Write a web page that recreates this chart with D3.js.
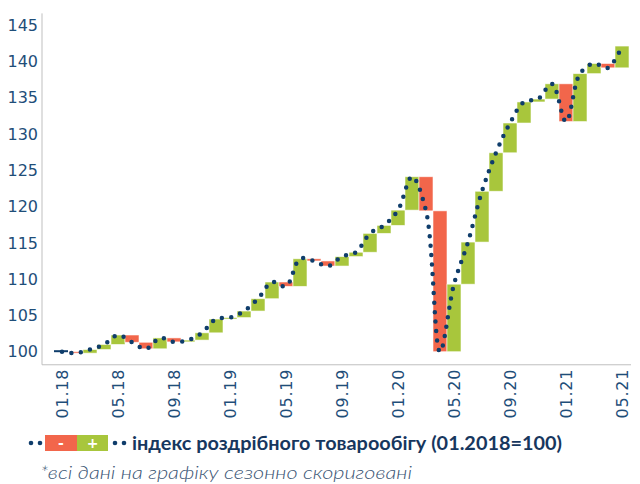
<!DOCTYPE html>
<html>
<head>
<meta charset="utf-8">
<script src="https://cdn.jsdelivr.net/npm/d3@7/dist/d3.min.js"></script>
<style>
	body { margin: 0; background: #fff; }
	text { font-family: "DejaVu Sans", sans-serif; }
</style>
</head>
<body>
<svg id="chart" width="640" height="484"></svg>
<script>
// monthly categories, 01.18 .. 05.21
var months = ["01.18","02.18","03.18","04.18","05.18","06.18","07.18","08.18","09.18","10.18","11.18","12.18",
	"01.19","02.19","03.19","04.19","05.19","06.19","07.19","08.19","09.19","10.19","11.19","12.19",
	"01.20","02.20","03.20","04.20","05.20","06.20","07.20","08.20","09.20","10.20","11.20","12.20",
	"01.21","02.21","03.21","04.21","05.21"];

// retail trade index (01.2018=100), seasonally adjusted
var retailIndex = [100, 99.8, 100.3, 101.0, 102.3, 101.3, 100.4, 101.9, 101.35, 101.6, 102.6, 104.5,
	104.7, 105.6, 107.3, 109.6, 109.0, 112.8, 112.5, 111.8, 113.1, 113.7, 116.3, 117.4,
	119.5, 124.1, 119.4, 100.0, 109.3, 115.1, 122.1, 127.4, 131.5, 134.4, 134.8, 136.9,
	131.7, 138.3, 139.7, 139.1, 142.1];

var xTickLabels = ["01.18","05.18","09.18","01.19","05.19","09.19","01.20","05.20","09.20","01.21","05.21"];
var yTicks = [100, 105, 110, 115, 120, 125, 130, 135, 140, 145];

var legendLabel = "індекс роздрібного товарообігу (01.2018=100)";
var footnote = "*всі дані на графіку сезонно скориговані";

var navy = "#0f3d6b",
	green = "#a8c63c",
	red = "#f2664b",
	tickColor = "#1f4e79";

var svg = d3.select("#chart");

var x = d3.scaleBand()
	.domain(months)
	.range([55, 629])
	.padding(0);

var y = d3.scaleLinear()
	.domain([100, 145])
	.range([351.7, 25]);

var axisLeftX = 42,
	axisBottomY = y(98.2),
	axisTopY = y(146.6);

// axis lines
svg.append("line")
	.attr("x1", axisLeftX).attr("x2", axisLeftX)
	.attr("y1", axisTopY).attr("y2", axisBottomY)
	.attr("stroke", "#bfbfbf").attr("stroke-width", 1);
svg.append("line")
	.attr("x1", axisLeftX).attr("x2", x.range()[1] + 2)
	.attr("y1", axisBottomY).attr("y2", axisBottomY)
	.attr("stroke", "#bfbfbf").attr("stroke-width", 1);

// y tick labels
svg.append("g").selectAll("text")
	.data(yTicks)
	.enter().append("text")
	.attr("x", axisLeftX - 4)
	.attr("y", function(d) { return y(d); })
	.attr("dy", "0.36em")
	.attr("text-anchor", "end")
	.attr("fill", tickColor)
	.style("font-size", "16px")
	.text(function(d) { return d; });

// x tick labels, rotated
svg.append("g").selectAll("text")
	.data(xTickLabels)
	.enter().append("text")
	.attr("transform", function(d) {
		return "translate(" + (x(d) + x.bandwidth() / 2) + "," + (axisBottomY + 4) + ") rotate(-90)";
	})
	.attr("dy", "0.36em")
	.attr("text-anchor", "end")
	.attr("fill", tickColor)
	.style("font-size", "16px")
	.style("letter-spacing", "0.8px")
	.text(function(d) { return d; });

// waterfall bars: change from previous month
var changes = months.slice(1).map(function(m, i) {
	return { month: m, from: retailIndex[i], to: retailIndex[i + 1] };
});

svg.append("g").selectAll("rect")
	.data(changes)
	.enter().append("rect")
	.attr("x", function(d) { return x(d.month); })
	.attr("width", x.bandwidth())
	.attr("y", function(d) { return y(Math.max(d.from, d.to)); })
	.attr("height", function(d) { return Math.max(1, Math.abs(y(d.from) - y(d.to))); })
	.attr("fill", function(d) { return d.to >= d.from ? green : red; })
	.attr("stroke", "rgba(255,255,255,0.7)")
	.attr("stroke-width", 0.8);

// first month marker
svg.append("rect")
	.attr("x", x(months[0]) - 1)
	.attr("width", x.bandwidth())
	.attr("y", y(retailIndex[0]) - 1.5)
	.attr("height", 2)
	.attr("fill", navy);

// dotted index line
var line = d3.line()
	.x(function(d, i) { return x(months[i]) + x.bandwidth() / 2; })
	.y(function(d) { return y(d); })
	.curve(d3.curveCatmullRom.alpha(0.5));

svg.append("path")
	.datum(retailIndex)
	.attr("d", line)
	.attr("fill", "none")
	.attr("stroke", navy)
	.attr("stroke-width", 4.5)
	.attr("stroke-linecap", "round")
	.attr("stroke-dasharray", "0,9.5");

// legend
var legend = svg.append("g");
var legendY = 443;
[31, 40, 115, 124].forEach(function(cx) {
	legend.append("circle")
		.attr("cx", cx).attr("cy", legendY)
		.attr("r", 2.3)
		.attr("fill", navy);
});
legend.append("rect")
	.attr("x", 45).attr("y", legendY - 8)
	.attr("width", 32).attr("height", 16)
	.attr("fill", red);
legend.append("rect")
	.attr("x", 77).attr("y", legendY - 8)
	.attr("width", 31).attr("height", 16)
	.attr("fill", green);
legend.append("text")
	.attr("x", 61).attr("y", legendY).attr("dy", "0.34em")
	.attr("text-anchor", "middle")
	.attr("fill", "#fff")
	.style("font-size", "14px").style("font-weight", "bold")
	.text("-");
legend.append("text")
	.attr("x", 92.5).attr("y", legendY).attr("dy", "0.34em")
	.attr("text-anchor", "middle")
	.attr("fill", "#fff")
	.style("font-size", "14px").style("font-weight", "bold")
	.text("+");
legend.append("text")
	.attr("x", 132).attr("y", legendY).attr("dy", "0.35em")
	.attr("fill", "#17375e")
	.attr("textLength", 430)
	.attr("lengthAdjust", "spacingAndGlyphs")
	.style("font-family", "Lato, sans-serif")
	.style("font-size", "19.5px").style("font-weight", "bold")
	.text(legendLabel);

// footnote
svg.append("text")
	.attr("x", 40).attr("y", 473).attr("dy", "0.35em")
	.attr("fill", "#3b5675")
	.attr("textLength", 372)
	.attr("lengthAdjust", "spacingAndGlyphs")
	.style("font-family", "Lato, sans-serif")
	.style("font-size", "18px").style("font-style", "italic").style("font-weight", "300")
	.text(footnote);
</script>
</body>
</html>
